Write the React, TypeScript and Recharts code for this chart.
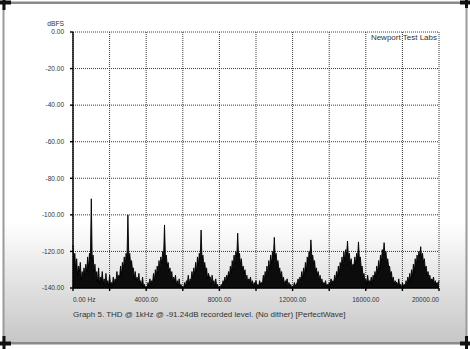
import React from 'react';
import { AreaChart, Area, XAxis, YAxis, CartesianGrid } from 'recharts';

const STEP_HZ = 50;
const levelDb = [
  // 0 - 1950 Hz
  -116.5, -125, -121, -130, -124, -133, -128, -131, -126, -136, -131, -135, -129, -133, -127, -131, -123, -129, -121, -124,
  -91.2, -125, -122, -131, -127, -136, -131, -137, -129, -138, -134, -136, -131, -138, -135, -139, -132, -138, -136, -139,
  // 2000 - 3950 Hz
  -133, -138, -137, -139, -134, -138, -135, -137, -131, -136, -133, -134, -128, -133, -126, -130, -123, -128, -121, -124,
  -100, -124, -121, -127, -125, -130, -129, -135, -131, -136, -134, -137, -132, -138, -136, -139, -134, -139, -138, -140,
  // 4000 - 5950 Hz
  -139, -140, -137, -139, -135, -138, -136, -137, -132, -136, -130, -134, -128, -132, -125, -130, -123, -127, -120, -123,
  -105.5, -123, -122, -128, -126, -131, -129, -134, -131, -137, -134, -136, -133, -138, -136, -139, -135, -139, -138, -140,
  // 6000 - 7950 Hz
  -139, -140, -137, -139, -136, -137, -133, -138, -135, -136, -131, -135, -129, -133, -126, -131, -123, -128, -121, -124,
  -108.3, -124, -122, -128, -126, -131, -129, -135, -132, -134, -134, -138, -133, -137, -136, -139, -135, -139, -138, -140,
  // 8000 - 9950 Hz
  -139, -140, -138, -139, -136, -138, -134, -137, -133, -135, -131, -134, -128, -132, -125, -130, -122, -127, -120, -123,
  -110, -123, -121, -127, -124, -130, -128, -132, -130, -136, -133, -137, -135, -136, -134, -138, -136, -139, -137, -138,
  // 10000 - 11950 Hz
  -136, -139, -138, -139, -136, -138, -137, -138, -133, -136, -131, -134, -128, -133, -125, -130, -122, -127, -120, -123,
  -112.3, -123, -121, -127, -125, -130, -129, -134, -131, -136, -134, -138, -136, -137, -135, -139, -137, -139, -138, -140,
  // 12000 - 13950 Hz
  -139, -139, -137, -139, -138, -137, -135, -138, -134, -136, -131, -135, -129, -133, -126, -131, -123, -127, -120, -123,
  -113.7, -123, -122, -127, -125, -131, -129, -133, -131, -136, -133, -137, -135, -138, -137, -138, -136, -139, -138, -139,
  // 14000 - 15950 Hz
  -137, -138, -135, -138, -136, -137, -133, -136, -131, -134, -128, -133, -126, -130, -123, -128, -120, -125, -119, -122,
  -114.3, -123, -121, -127, -124, -129, -127, -128, -123, -127, -121, -124, -114.8, -124, -123, -129, -128, -134, -132, -137,
  // 16000 - 17950 Hz
  -135, -138, -133, -137, -136, -137, -134, -138, -133, -136, -131, -134, -128, -132, -125, -130, -122, -126, -119, -122,
  -115.2, -122, -120, -126, -124, -129, -128, -133, -131, -136, -134, -138, -136, -137, -137, -139, -135, -139, -138, -140,
  // 18000 - 19950 Hz
  -137, -139, -138, -139, -136, -138, -134, -137, -132, -136, -130, -134, -127, -132, -124, -129, -122, -126, -120, -123,
  -117.4, -124, -121, -126, -124, -130, -128, -133, -131, -135, -133, -137, -135, -136, -134, -138, -136, -138, -137, -139,
  // 20000 Hz
  -136,
];

const xTicks = [0, 2000, 4000, 6000, 8000, 10000, 12000, 14000, 16000, 18000, 20000];
const yTicks = [0, -20, -40, -60, -80, -100, -120, -140];

const FONT = '"Liberation Sans", Arial, sans-serif';
const data = levelDb.map((db, i) => ({ hz: i * STEP_HZ, db }));

const XTick = (props: any) => {
  const { x, y, payload } = props;
  const v = payload.value;
  if (v % 4000 !== 0) return null;
  const label = v === 0 ? '0.00 Hz' : v.toFixed(2);
  const anchor = v === 0 ? 'start' : v === 20000 ? 'end' : 'middle';
  return (
    <text x={x} y={y} dy="0.71em" textAnchor={anchor} fontSize={6.5} fill="#333" fontFamily={FONT}>
      {label}
    </text>
  );
};

const YTick = (props: any) => {
  const { x, y, payload } = props;
  return (
    <text x={x} y={y} dy="0.355em" textAnchor="end" fontSize={6.5} fill="#333" fontFamily={FONT}>
      {payload.value.toFixed(2)}
    </text>
  );
};

export default function App() {
  return (
    <div style={{ position: 'absolute', left: 0, top: 0, width: 470, height: 349, background: '#fff' }}>
      {/* page frame + shading */}
      <svg width={470} height={349} style={{ position: 'absolute', left: 0, top: 0 }}>
        <defs>
          <linearGradient id="shade" x1="0" y1="0" x2="0" y2="1">
            <stop offset="0%" stopColor="#ffffff" />
            <stop offset="100%" stopColor="#c6c6c6" />
          </linearGradient>
        </defs>
        <rect x={4} y={222} width={462} height={121} fill="url(#shade)" />
        <rect x={0} y={1.5} width={470} height={2.5} fill="#8a8a8a" />
        <rect x={0} y={342} width={470} height={2.5} fill="#8a8a8a" />
        <rect x={2.5} y={2} width={2} height={341} fill="#9a9a9a" />
        <rect x={465.5} y={2} width={2} height={341} fill="#9a9a9a" />
        <rect x={0} y={0.5} width={11} height={4} fill="#111" />
        <rect x={2.5} y={0} width={3} height={10} fill="#111" />
        <rect x={460} y={0.5} width={10} height={4} fill="#111" />
        <rect x={465} y={0} width={3} height={8} fill="#111" />
        <rect x={0} y={341.5} width={11} height={4} fill="#111" />
        <rect x={2.5} y={336} width={3} height={13} fill="#111" />
        <rect x={460} y={341.5} width={10} height={4} fill="#111" />
        <rect x={465} y={336} width={3} height={13} fill="#111" />
      </svg>

      <AreaChart
        width={470}
        height={349}
        data={data}
        margin={{ top: 32, right: 31, left: 0, bottom: 0 }}
        style={{ position: 'absolute', left: 0, top: 0 }}
      >
        <CartesianGrid stroke="#222" strokeDasharray="1 1" strokeWidth={0.9} />
        <XAxis
          dataKey="hz"
          type="number"
          domain={[0, 20000]}
          ticks={xTicks}
          interval={0}
          height={61}
          tickSize={3}
          tickMargin={6}
          stroke="#000"
          strokeWidth={1.4}
          tick={<XTick />}
        />
        <YAxis
          type="number"
          domain={[-140, 0]}
          ticks={yTicks}
          interval={0}
          width={73}
          tickSize={3}
          tickMargin={6}
          stroke="#000"
          strokeWidth={1.4}
          tick={<YTick />}
        />
        <Area
          dataKey="db"
          type="linear"
          baseValue={-140}
          stroke="#000"
          strokeWidth={0.9}
          fill="#000"
          fillOpacity={0.95}
          dot={false}
          activeDot={false}
          isAnimationActive={false}
        />
      </AreaChart>

      {/* texts */}
      <svg width={470} height={349} style={{ position: 'absolute', left: 0, top: 0, pointerEvents: 'none' }}>
        <text x={64} y={25.5} textAnchor="end" fontSize={6.7} fill="#333" fontFamily={FONT}>
          dBFS
        </text>
        <text x={437} y={40} textAnchor="end" fontSize={8} fill="#333" fontFamily={FONT}>
          Newport Test Labs
        </text>
        <text x={73} y={317} fontSize={8} fill="#333" fontFamily={FONT}>
          Graph 5. THD @ 1kHz @ -91.24dB recorded level. (No dither) [PerfectWave]
        </text>
      </svg>
    </div>
  );
}
